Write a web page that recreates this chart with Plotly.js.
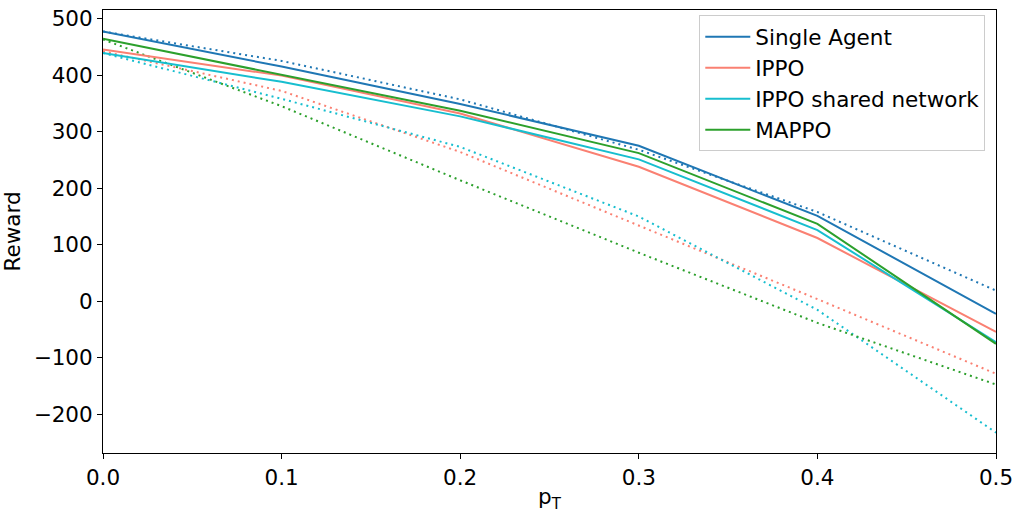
<!DOCTYPE html>
<html>
<head>
<meta charset="utf-8">
<script src="https://cdn.plot.ly/plotly-3.0.1.min.js"></script>
<style>
  html, body { margin: 0; padding: 0; background: #fff; }
  #chart { width: 1023px; height: 520px; }
</style>
</head>
<body>
<div id="chart"></div>
<script>
const pT = [0, 0.1, 0.2, 0.3, 0.4, 0.5];

const singleAgent = [477, 415, 349, 275, 151, -22];
const singleAgentDotted = [477, 425, 357, 268, 158, 19];
const ippo = [445, 399, 332, 238, 112, -54];
const ippoDotted = [442, 372, 264, 134, 4, -128];
const ippoShared = [439, 388, 327, 251, 126, -72];
const ippoSharedDotted = [439, 358, 273, 150, -15, -232];
const mappo = [464, 401, 337, 262, 137, -75];
const mappoDotted = [463, 345, 214, 86, -38, -147];

const seriesNames = ["Single Agent", "IPPO", "IPPO shared network", "MAPPO"];
const seriesColors = ["#1f77b4", "#fa8072", "#17becf", "#2ca02c"];
const solidValues = [singleAgent, ippo, ippoShared, mappo];
const dottedValues = [singleAgentDotted, ippoDotted, ippoSharedDotted, mappoDotted];

const traces = [];
// dotted lines first so solid ones sit on top
dottedValues.forEach((values, i) => {
  traces.push({
    type: "scatter",
    mode: "lines",
    x: pT,
    y: values,
    showlegend: false,
    line: { color: seriesColors[i], width: 2, dash: "2px,4px" },
  });
});
solidValues.forEach((values, i) => {
  traces.push({
    type: "scatter",
    mode: "lines",
    name: seriesNames[i],
    legendgroup: "g" + i,
    x: pT,
    y: values,
    line: { color: seriesColors[i], width: 2 },
  });
});

const axisCommon = {
  showgrid: false,
  zeroline: false,
  showline: true,
  linecolor: "#000",
  linewidth: 1,
  mirror: true,
  ticks: "outside",
  ticklen: 5,
  tickwidth: 1,
  tickcolor: "#000",
  tickfont: { size: 21.5, color: "#000" },
};

const layout = {
  width: 1023,
  height: 520,
  margin: { l: 103, r: 27, t: 10, b: 67 },
  paper_bgcolor: "#fff",
  plot_bgcolor: "#fff",
  font: { family: "DejaVu Sans, sans-serif", size: 21.5, color: "#000" },
  xaxis: {
    ...axisCommon,
    range: [0, 0.5],
    tickvals: [0, 0.1, 0.2, 0.3, 0.4, 0.5],
    ticktext: ["0.0", "0.1", "0.2", "0.3", "0.4", "0.5"],
    title: { text: "p<sub>T</sub>", font: { size: 21.5 }, standoff: 0 },
  },
  yaxis: {
    ...axisCommon,
    automargin: "left",
    range: [-268, 515],
    tickvals: [-200, -100, 0, 100, 200, 300, 400, 500],
    ticktext: ["\u2212200", "\u2212100", "0", "100", "200", "300", "400", "500"],
    title: { text: "Reward", font: { size: 21.5 }, standoff: 8 },
  },
  legend: {
    x: 0.988,
    xanchor: "right",
    y: 0.988,
    yanchor: "top",
    bgcolor: "rgba(255,255,255,0.8)",
    bordercolor: "#cccccc",
    borderwidth: 1,
    font: { size: 21.5 },
    itemwidth: 45,
    tracegroupgap: 0,
  },
  showlegend: true,
};

Plotly.newPlot("chart", traces, layout, { displayModeBar: false, staticPlot: true });
</script>
</body>
</html>
